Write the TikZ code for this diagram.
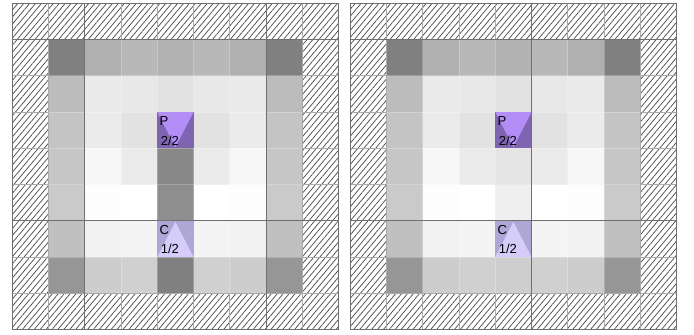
\documentclass[tikz,border=0pt]{standalone}
\usepackage{fontspec}
\setmainfont{Liberation Sans}
\usetikzlibrary{patterns.meta}
\definecolor{hatchink}{HTML}{4C4C4C}
\definecolor{gridlite}{HTML}{AAAAAA}
\definecolor{tileline}{HTML}{707070}
\definecolor{pdark}{HTML}{7F64B2}
\definecolor{plite}{HTML}{B48EF7}
\definecolor{cdark}{HTML}{AEA6D4}
\definecolor{clite}{HTML}{D6CCFA}
\tikzset{
  halo/.style={pattern={Lines[angle=50,distance=3.4pt,line width=0.55pt]}, pattern color=hatchink},
  litegrid/.style={draw=gridlite, line width=0.5pt},
  seam/.style={draw=white, opacity=0.25, line width=0.5pt},
  tilecut/.style={draw=tileline, line width=0.8pt},
  tag/.style={font=\fontsize{9.8}{11}\selectfont, text=black, inner sep=0pt},
}

\begin{document}
\begin{tikzpicture}[x=27.1875pt,y=-27.1875pt]
  \useasboundingbox (0,0) rectangle (19.145,9.241);
  % left panel
  \begin{scope}[shift={(0.339,0.091)}]
    \fill[halo] (0,0) rectangle (9,9);
    \foreach \k in {1,...,8} {
      \draw[litegrid] (\k,0) -- (\k,9);
      \draw[litegrid] (0,\k) -- (9,\k);
    }
    \foreach \row [count=\r] in {
      {128,176,184,178,184,176,128},
      {188,234,232,226,232,234,188},
      {196,235,226,255,226,235,196},
      {198,247,235,136,235,247,198},
      {202,253,255,142,255,253,202},
      {192,242,244,255,244,242,192},
      {150,205,208,128,208,205,150}} {
      \foreach \g [count=\c] in \row {
        \definecolor{cellc}{RGB}{\g,\g,\g}
        \fill[cellc] (\c,\r) rectangle ++(1,1);
      }
    }
    \foreach \k in {2,...,7} {
      \draw[seam] (\k,1) -- (\k,8);
      \draw[seam] (1,\k) -- (8,\k);
    }
    \fill[pdark] (4,3) rectangle (5,4);
    \fill[plite] (4,3) -- (5,3) -- (4.5,3.97) -- cycle;
    \node[tag, anchor=north west] (lp) at (4.06,3.11) {P};
    \node[tag, anchor=base west] (lpn) at (4.09,3.915) {2/2};
    \fill[cdark] (4,6) rectangle (5,7);
    \fill[clite] (4,7) -- (5,7) -- (4.5,6.03) -- cycle;
    \node[tag, anchor=north west] (lc) at (4.06,6.11) {C};
    \node[tag, anchor=base west] (lcn) at (4.09,6.915) {1/2};
    \draw[tilecut] (2,0) -- (2,9);
    \draw[tilecut] (7,0) -- (7,9);
    \draw[tilecut] (0,1) -- (9,1);
    \draw[tilecut] (0,6) -- (9,6);
    \draw[tilecut] (0,0) rectangle (9,9);
  \end{scope}
  % right panel
  \begin{scope}[shift={(9.663,0.091)}]
    \fill[halo] (0,0) rectangle (9,9);
    \foreach \k in {1,...,8} {
      \draw[litegrid] (\k,0) -- (\k,9);
      \draw[litegrid] (0,\k) -- (9,\k);
    }
    \foreach \row [count=\r] in {
      {128,176,184,178,184,176,128},
      {188,234,232,226,232,234,188},
      {196,235,226,255,226,235,196},
      {198,247,235,228,235,247,198},
      {202,253,255,239,255,253,202},
      {192,242,244,255,244,242,192},
      {150,205,208,206,208,205,150}} {
      \foreach \g [count=\c] in \row {
        \definecolor{cellc}{RGB}{\g,\g,\g}
        \fill[cellc] (\c,\r) rectangle ++(1,1);
      }
    }
    \foreach \k in {2,...,7} {
      \draw[seam] (\k,1) -- (\k,8);
      \draw[seam] (1,\k) -- (8,\k);
    }
    \fill[pdark] (4,3) rectangle (5,4);
    \fill[plite] (4,3) -- (5,3) -- (4.5,3.97) -- cycle;
    \node[tag, anchor=north west] (rp) at (4.06,3.11) {P};
    \node[tag, anchor=base west] (rpn) at (4.09,3.915) {2/2};
    \fill[cdark] (4,6) rectangle (5,7);
    \fill[clite] (4,7) -- (5,7) -- (4.5,6.03) -- cycle;
    \node[tag, anchor=north west] (rc) at (4.06,6.11) {C};
    \node[tag, anchor=base west] (rcn) at (4.09,6.915) {1/2};
    \draw[tilecut] (5,0) -- (5,9);
    \draw[tilecut] (0,1) -- (9,1);
    \draw[tilecut] (0,6) -- (9,6);
    \draw[tilecut] (0,0) rectangle (9,9);
  \end{scope}
\end{tikzpicture}
\end{document}
